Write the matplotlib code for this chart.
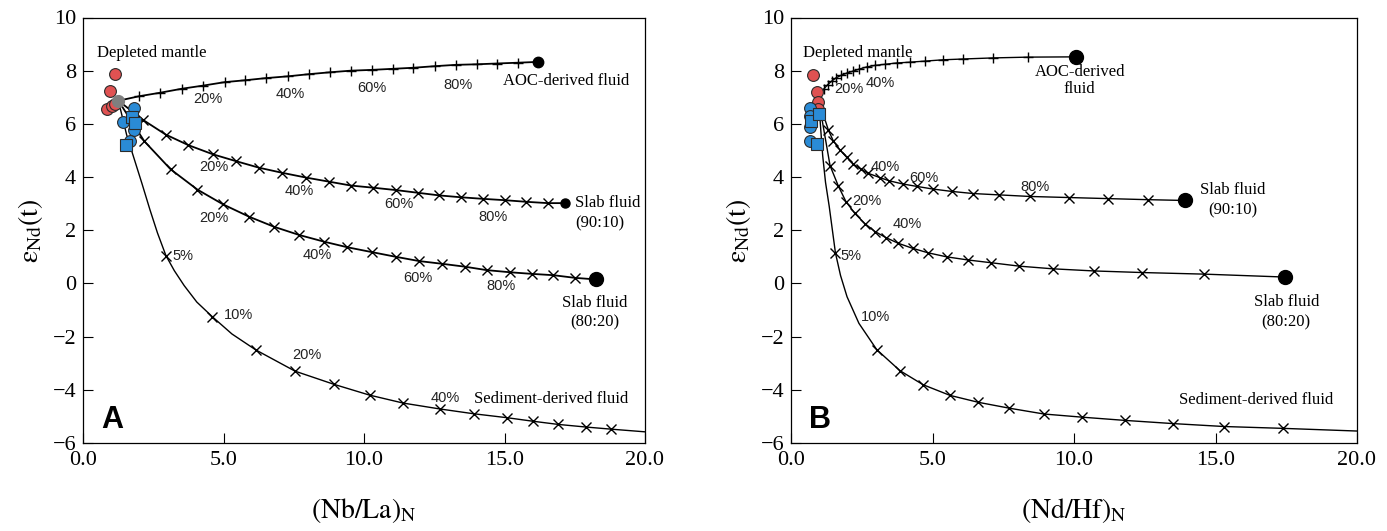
import matplotlib
matplotlib.use("Agg")
import matplotlib.pyplot as plt

plt.rcParams["font.family"] = ["Liberation Serif", "DejaVu Serif"]
plt.rcParams["mathtext.fontset"] = "stix"

# ---------------- panel A : (Nb/La)N vs eNd(t) ----------------
A_START = (1.26, 6.87)                       # depleted mantle end-member

A_AOC_X = [2.00, 2.74, 3.51, 4.28, 5.05, 5.77, 6.50, 7.31, 8.05, 8.79, 9.52,
           10.27, 11.02, 11.75, 12.53, 13.27, 14.01, 14.72, 15.47]
A_AOC_Y = [7.04, 7.17, 7.32, 7.44, 7.57, 7.64, 7.72, 7.79, 7.87, 7.94, 8.00,
           8.03, 8.07, 8.11, 8.17, 8.22, 8.24, 8.27, 8.30]
A_AOC_END = (16.18, 8.33)

A_S90_X = [2.15, 2.94, 3.75, 4.64, 5.44, 6.27, 7.09, 7.94, 8.74, 9.54, 10.33,
           11.14, 11.91, 12.68, 13.45, 14.25, 15.02, 15.77, 16.54]
A_S90_Y = [6.14, 5.60, 5.20, 4.85, 4.60, 4.35, 4.16, 3.98, 3.83, 3.68, 3.60,
           3.51, 3.41, 3.31, 3.24, 3.18, 3.13, 3.07, 3.02]
A_S90_END = (17.15, 3.02)

A_S80_X = [2.18, 3.12, 4.07, 4.99, 5.91, 6.80, 7.70, 8.58, 9.41, 10.27, 11.14,
           11.97, 12.77, 13.59, 14.37, 15.20, 15.97, 16.74, 17.51]
A_S80_Y = [5.35, 4.29, 3.53, 2.97, 2.51, 2.13, 1.82, 1.57, 1.36, 1.18, 1.00,
           0.84, 0.74, 0.63, 0.50, 0.42, 0.36, 0.31, 0.21]
A_S80_END = (18.26, 0.15)

A_SED_X = [2.95, 4.60, 6.15, 7.55, 8.95, 10.2, 11.4, 12.7, 13.9, 15.1, 16.0,
           16.9, 17.9, 18.8]
A_SED_Y = [1.05, -1.25, -2.50, -3.30, -3.80, -4.20, -4.50, -4.72, -4.90,
           -5.05, -5.18, -5.30, -5.40, -5.48]
A_SED_LINE_X = [1.26, 1.55, 1.79, 2.10, 2.38, 2.65, 2.95, 3.25, 3.60, 4.05,
                4.60, 5.30, 6.15, 7.55, 8.95, 10.2, 11.4, 12.7, 13.9, 15.1,
                16.0, 16.9, 17.9, 18.8, 20.0]
A_SED_LINE_Y = [6.87, 5.60, 4.79, 3.75, 2.78, 1.90, 1.05, 0.48, -0.08, -0.70,
                -1.25, -1.90, -2.50, -3.30, -3.80, -4.20, -4.50, -4.72, -4.90,
                -5.05, -5.18, -5.30, -5.40, -5.48, -5.58]

A_RED_X = [1.14, 0.96, 0.84, 1.02, 1.14]
A_RED_Y = [7.86, 7.23, 6.57, 6.67, 6.73]
A_BLUE_CIR_X = [1.83, 1.43, 1.83, 1.67]
A_BLUE_CIR_Y = [6.60, 6.06, 5.76, 5.35]
A_BLUE_SQ_X = [1.73, 1.85, 1.53]
A_BLUE_SQ_Y = [6.27, 6.04, 5.19]

# ---------------- panel B : (Nd/Hf)N vs eNd(t) ----------------
B_START = (0.98, 6.88)

B_AOC_X = [1.15, 1.30, 1.44, 1.59, 1.76, 1.97, 2.18, 2.41, 2.67, 2.97, 3.32,
           3.73, 4.20, 4.73, 5.38, 6.09, 7.13, 8.39]
B_AOC_Y = [7.30, 7.48, 7.61, 7.73, 7.82, 7.91, 7.98, 8.06, 8.14, 8.20, 8.24,
           8.29, 8.32, 8.36, 8.41, 8.44, 8.48, 8.51]
B_AOC_END = (10.07, 8.52)

B_S90_X = [1.32, 1.49, 1.73, 1.97, 2.20, 2.46, 2.73, 3.14, 3.47, 3.95, 4.44,
           5.01, 5.68, 6.44, 7.35, 8.45, 9.82, 11.2, 12.6]
B_S90_Y = [5.77, 5.37, 5.02, 4.74, 4.49, 4.30, 4.14, 3.98, 3.86, 3.74, 3.65,
           3.55, 3.46, 3.38, 3.33, 3.27, 3.23, 3.19, 3.15]
B_S90_END = (13.92, 3.12)

B_S80_X = [1.38, 1.67, 1.94, 2.26, 2.61, 2.97, 3.36, 3.79, 4.30, 4.85, 5.50,
           6.27, 7.06, 8.07, 9.25, 10.7, 12.4, 14.6]
B_S80_Y = [4.43, 3.67, 3.08, 2.63, 2.25, 1.95, 1.72, 1.51, 1.32, 1.15, 1.00,
           0.88, 0.78, 0.65, 0.55, 0.47, 0.41, 0.35]
B_S80_END = (17.45, 0.24)

B_SED_X = [1.57, 3.03, 3.85, 4.67, 5.62, 6.62, 7.71, 8.94, 10.3, 11.8, 13.5,
           15.3, 17.4]
B_SED_Y = [1.15, -2.49, -3.28, -3.81, -4.21, -4.47, -4.69, -4.91, -5.03,
           -5.15, -5.27, -5.38, -5.45]
B_SED_LINE_X = [0.98, 1.05, 1.12, 1.22, 1.35, 1.57, 1.75, 1.98, 2.40, 3.03,
                3.85, 4.67, 5.62, 6.62, 7.71, 8.94, 10.3, 11.8, 13.5, 15.3,
                17.4, 20.0]
B_SED_LINE_Y = [6.88, 5.80, 4.80, 3.80, 2.90, 1.15, 0.30, -0.50, -1.50, -2.49,
                -3.28, -3.81, -4.21, -4.47, -4.69, -4.91, -5.03, -5.15, -5.27,
                -5.38, -5.45, -5.55]

B_RED_X = [0.79, 0.91, 0.96, 0.96]
B_RED_Y = [7.82, 7.19, 6.81, 6.55]
B_BLUE_CIR_X = [0.67, 0.67, 0.67, 0.67]
B_BLUE_CIR_Y = [6.60, 6.30, 5.90, 5.37]
B_BLUE_SQ_X = [0.71, 1.00, 0.91]
B_BLUE_SQ_Y = [6.10, 6.38, 5.25]

RED = "#e05252"
BLUE = "#2a8bd6"
EDGE = "#2b2b2b"
PCT_FONT = "Liberation Sans"

fig = plt.figure(figsize=(13.87, 5.31), dpi=100)
axA = fig.add_axes([83 / 1387, 88 / 531, 562 / 1387, 425.5 / 531])
axB = fig.add_axes([791 / 1387, 88 / 531, 566 / 1387, 425.5 / 531])


def mix_curve(ax, start, xs, ys, end, marker, end_ms, lw=1.3):
    ax.plot([start[0]] + xs + [end[0]], [start[1]] + ys + [end[1]],
            color="black", lw=lw, zorder=2)
    ax.plot(xs, ys, ls="none", marker=marker, ms=7, mew=1.0,
            color="black", zorder=3)
    ax.plot([end[0]], [end[1]], "o", ms=end_ms, color="black", zorder=4)


def samples(ax, rx, ry, cx, cy, sx, sy):
    ax.plot(rx, ry, "o", ls="none", ms=8.5, mfc=RED, mec=EDGE, mew=0.8, zorder=5)
    ax.plot(cx, cy, "o", ls="none", ms=8.5, mfc=BLUE, mec=EDGE, mew=0.8, zorder=5)
    ax.plot(sx, sy, "s", ls="none", ms=8.5, mfc=BLUE, mec=EDGE, mew=0.8, zorder=6)


def pct(ax, x, y, s, ha="center"):
    ax.text(x, y, s, fontsize=10.5, family=PCT_FONT, ha=ha, va="center",
            color="#222222", zorder=7)


def style(ax, xlabel, letter):
    ax.set_xlim(0, 20)
    ax.set_ylim(-6, 10)
    ax.set_xticks([0, 5, 10, 15, 20])
    ax.set_xticklabels(["0.0", "5.0", "10.0", "15.0", "20.0"])
    ax.set_yticks(range(-6, 11, 2))
    ax.tick_params(direction="in", length=7, width=0.8, labelsize=16,
                   top=False, right=False)
    ax.tick_params(axis="y", pad=5)
    ax.tick_params(axis="x", pad=6)
    for sp in ax.spines.values():
        sp.set_linewidth(0.9)
    ax.set_xlabel(xlabel, fontsize=20)
    ax.xaxis.set_label_coords(0.5, -0.125)
    ax.set_ylabel(r"$\mathrm{\varepsilon_{Nd}(t)}$", fontsize=20)
    ax.yaxis.set_label_coords(-0.068, 0.5)
    ax.text(0.032, 0.055, letter, transform=ax.transAxes, fontsize=22,
            family=PCT_FONT, weight="bold", ha="left", va="center")


# ---- panel A ----
mix_curve(axA, A_START, A_AOC_X, A_AOC_Y, A_AOC_END, "+", 7.5)
mix_curve(axA, A_START, A_S90_X, A_S90_Y, A_S90_END, "x", 6.5)
mix_curve(axA, A_START, A_S80_X, A_S80_Y, A_S80_END, "x", 10)
axA.plot(A_SED_LINE_X, A_SED_LINE_Y, color="black", lw=1.0, zorder=2)
axA.plot(A_SED_X, A_SED_Y, ls="none", marker="x", ms=7, mew=1.0,
         color="black", zorder=3)
samples(axA, A_RED_X, A_RED_Y, A_BLUE_CIR_X, A_BLUE_CIR_Y, A_BLUE_SQ_X, A_BLUE_SQ_Y)
axA.plot([A_START[0]], [A_START[1]], "o", ms=8.5, color="#7f7f7f", zorder=6)

for x, y, s in [(4.45, 6.92, "20%"), (7.37, 7.11, "40%"), (10.27, 7.36, "60%"),
                (13.35, 7.48, "80%"),
                (4.66, 4.37, "20%"), (7.70, 3.47, "40%"), (11.25, 2.97, "60%"),
                (14.6, 2.51, "80%"),
                (4.66, 2.47, "20%"), (8.32, 1.06, "40%"), (11.9, 0.19, "60%"),
                (14.88, -0.10, "80%"),
                (5.53, -1.19, "10%"), (7.96, -2.70, "20%"), (12.88, -4.29, "40%")]:
    pct(axA, x, y, s)
pct(axA, 3.2, 1.05, "5%", ha="left")

axA.text(0.5, 8.65, "Depleted mantle", fontsize=12, ha="left", va="center")
axA.text(14.95, 7.6, "AOC-derived fluid", fontsize=12, ha="left", va="center")
axA.text(17.5, 2.65, "Slab fluid\n(90:10)", fontsize=12, ha="left",
         va="center", linespacing=1.35)
axA.text(18.2, -1.1, "Slab fluid\n(80:20)", fontsize=12, ha="center",
         va="center", linespacing=1.35)
axA.text(13.9, -4.36, "Sediment-derived fluid", fontsize=12, ha="left",
         va="center")
style(axA, r"$\mathrm{(Nb/La)_N}$", "A")

# ---- panel B ----
mix_curve(axB, B_START, B_AOC_X, B_AOC_Y, B_AOC_END, "+", 10, lw=1.0)
mix_curve(axB, B_START, B_S90_X, B_S90_Y, B_S90_END, "x", 10, lw=1.0)
mix_curve(axB, B_START, B_S80_X, B_S80_Y, B_S80_END, "x", 10, lw=1.0)
axB.plot(B_SED_LINE_X, B_SED_LINE_Y, color="black", lw=1.0, zorder=2)
axB.plot(B_SED_X, B_SED_Y, ls="none", marker="x", ms=7, mew=1.0,
         color="black", zorder=3)
samples(axB, B_RED_X, B_RED_Y, B_BLUE_CIR_X, B_BLUE_CIR_Y, B_BLUE_SQ_X, B_BLUE_SQ_Y)

for x, y, s in [(2.03, 7.32, "20%"), (3.14, 7.53, "40%"),
                (3.32, 4.39, "40%"), (4.70, 3.98, "60%"), (8.62, 3.61, "80%"),
                (2.67, 3.11, "20%"), (4.12, 2.25, "40%"),
                (2.97, -1.27, "10%")]:
    pct(axB, x, y, s)
pct(axB, 1.75, 1.03, "5%", ha="left")

axB.text(0.42, 8.66, "Depleted mantle", fontsize=12, ha="left", va="center")
axB.text(10.2, 7.64, "AOC-derived\nfluid", fontsize=12, ha="center",
         va="center", linespacing=1.1)
axB.text(15.6, 3.12, "Slab fluid\n(90:10)", fontsize=12, ha="center",
         va="center", linespacing=1.35)
axB.text(17.5, -1.07, "Slab fluid\n(80:20)", fontsize=12, ha="center",
         va="center", linespacing=1.35)
axB.text(13.7, -4.37, "Sediment-derived fluid", fontsize=12, ha="left",
         va="center")
style(axB, r"$\mathrm{(Nd/Hf)_N}$", "B")

fig.savefig("out.png", dpi=100, facecolor="white")
